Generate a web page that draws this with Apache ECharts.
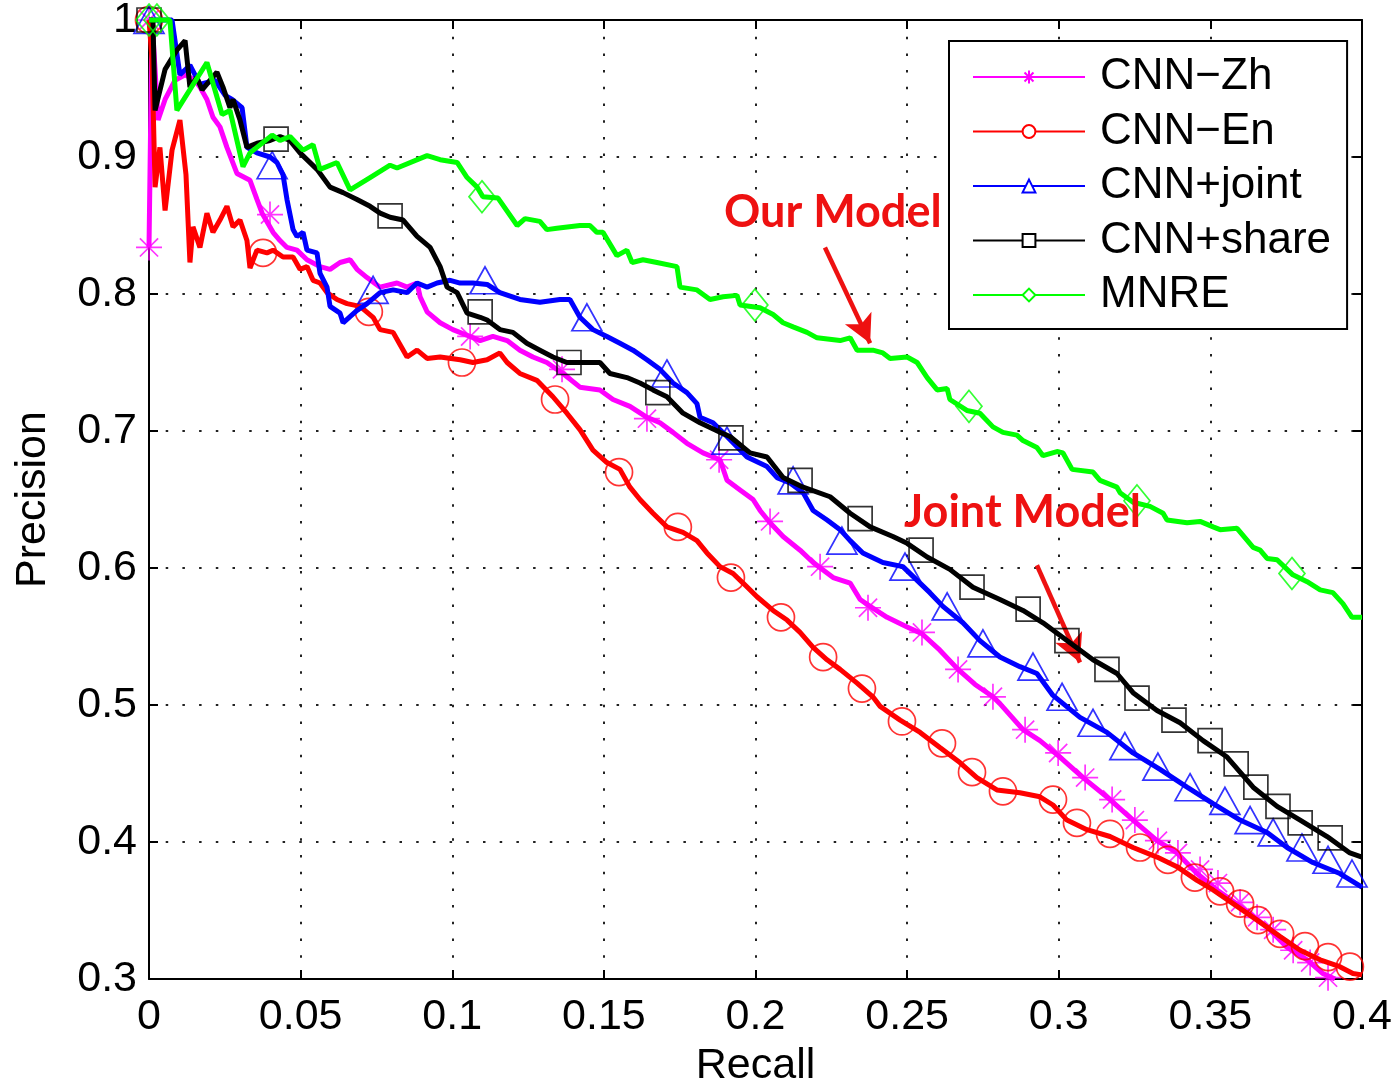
<!DOCTYPE html>
<html>
<head>
<meta charset="utf-8">
<script src="https://cdn.jsdelivr.net/npm/echarts@6/dist/echarts.min.js"></script>
<style>html,body{margin:0;padding:0;background:#fff}#c{width:1399px;height:1087px}</style>
</head>
<body>
<div id="c"></div>
<script>
// ---- data (recall, precision) ----
const seriesNames = ['CNN\u2212Zh', 'CNN\u2212En', 'CNN+joint', 'CNN+share', 'MNRE'];
const xTicks = [0, 0.05, 0.1, 0.15, 0.2, 0.25, 0.3, 0.35, 0.4];
const yTicks = [0.3, 0.4, 0.5, 0.6, 0.7, 0.8, 0.9, 1];

const zhLine = [[0,0.834],[0.001,1.0],[0.003,0.927],[0.0053,0.942],[0.0086,0.956],[0.0119,0.960],[0.0152,0.956],[0.0168,0.951],[0.0191,0.942],[0.0211,0.929],[0.0234,0.922],[0.0257,0.907],[0.029,0.888],[0.0333,0.883],[0.0356,0.869],[0.0373,0.859],[0.0409,0.845],[0.0432,0.839],[0.0455,0.834],[0.0488,0.832],[0.0521,0.825],[0.0564,0.820],[0.0597,0.818],[0.063,0.823],[0.0663,0.825],[0.0686,0.818],[0.0719,0.812],[0.0762,0.805],[0.0818,0.808],[0.0851,0.805],[0.0884,0.808],[0.0894,0.798],[0.0917,0.787],[0.096,0.779],[0.1002,0.774],[0.1059,0.769],[0.1092,0.766],[0.1134,0.769],[0.1181,0.766],[0.1223,0.759],[0.1266,0.754],[0.1312,0.750],[0.1365,0.742],[0.1421,0.732],[0.1487,0.730],[0.153,0.723],[0.1586,0.718],[0.1642,0.710],[0.1685,0.706],[0.1728,0.699],[0.1774,0.691],[0.1827,0.684],[0.1883,0.679],[0.1906,0.664],[0.1949,0.657],[0.1992,0.650],[0.2015,0.642],[0.2048,0.633],[0.2091,0.623],[0.2147,0.613],[0.219,0.604],[0.2256,0.593],[0.2312,0.589],[0.2345,0.577],[0.2378,0.572],[0.2434,0.564],[0.25,0.557],[0.2549,0.552],[0.2608,0.540],[0.2668,0.526],[0.2724,0.515],[0.2783,0.506],[0.2806,0.501],[0.2882,0.482],[0.2938,0.474],[0.3004,0.462],[0.308,0.447],[0.3169,0.431],[0.3245,0.416],[0.3324,0.401],[0.339,0.392],[0.3456,0.377],[0.3522,0.365],[0.3598,0.353],[0.3687,0.338],[0.3753,0.323],[0.3819,0.314],[0.3871,0.304],[0.3911,0.300]];
const zhMarks = [[0,0.834],[0,1.0],[0.0399,0.858],[0.1059,0.769],[0.1362,0.745],[0.1642,0.709],[0.188,0.679],[0.2048,0.634],[0.2213,0.601],[0.2371,0.571],[0.2549,0.553],[0.2668,0.526],[0.2783,0.506],[0.2889,0.482],[0.2998,0.465],[0.3087,0.447],[0.3176,0.431],[0.3251,0.416],[0.3327,0.401],[0.3393,0.392],[0.3466,0.380],[0.3525,0.370],[0.3598,0.356],[0.3654,0.345],[0.3707,0.336],[0.3773,0.321],[0.3829,0.312],[0.3888,0.301]];

const enLine = [[0,1.0],[0.001,0.971],[0.002,0.878],[0.0036,0.907],[0.0053,0.861],[0.0076,0.905],[0.0102,0.927],[0.0122,0.887],[0.0135,0.823],[0.0145,0.849],[0.0168,0.834],[0.0191,0.859],[0.0211,0.845],[0.0234,0.854],[0.0257,0.864],[0.0277,0.849],[0.03,0.854],[0.0323,0.839],[0.0333,0.819],[0.0356,0.832],[0.0389,0.830],[0.0409,0.832],[0.0442,0.827],[0.0475,0.827],[0.0498,0.818],[0.0521,0.820],[0.0541,0.810],[0.0564,0.808],[0.0587,0.801],[0.062,0.796],[0.0653,0.793],[0.0696,0.791],[0.0739,0.783],[0.0762,0.774],[0.0805,0.772],[0.0828,0.763],[0.0851,0.754],[0.0884,0.759],[0.0917,0.753],[0.096,0.754],[0.1026,0.752],[0.1068,0.750],[0.1115,0.752],[0.1157,0.757],[0.1181,0.750],[0.1223,0.742],[0.1279,0.737],[0.1332,0.725],[0.1378,0.713],[0.1421,0.701],[0.1464,0.686],[0.151,0.677],[0.1553,0.672],[0.1586,0.659],[0.1619,0.650],[0.1662,0.640],[0.1708,0.630],[0.1761,0.626],[0.1807,0.620],[0.184,0.611],[0.1883,0.601],[0.1926,0.596],[0.1959,0.589],[0.2005,0.579],[0.2058,0.569],[0.2104,0.562],[0.2147,0.553],[0.219,0.542],[0.2236,0.533],[0.2279,0.526],[0.2335,0.516],[0.2387,0.506],[0.2411,0.499],[0.2477,0.489],[0.2543,0.480],[0.2608,0.469],[0.2674,0.458],[0.273,0.447],[0.2796,0.438],[0.2872,0.436],[0.2938,0.433],[0.2981,0.427],[0.3027,0.416],[0.3093,0.409],[0.3169,0.404],[0.3245,0.396],[0.3324,0.389],[0.339,0.382],[0.3456,0.372],[0.3509,0.365],[0.3575,0.355],[0.3654,0.343],[0.373,0.331],[0.3796,0.321],[0.3862,0.314],[0.3927,0.309],[0.397,0.304],[0.4,0.303]];
const enMarks = [[0,1.0],[0.0376,0.830],[0.0725,0.787],[0.1032,0.750],[0.1339,0.723],[0.155,0.670],[0.1744,0.630],[0.1919,0.593],[0.2084,0.564],[0.2223,0.535],[0.2351,0.512],[0.2483,0.488],[0.2615,0.472],[0.2714,0.451],[0.2816,0.437],[0.2981,0.431],[0.306,0.414],[0.3169,0.406],[0.3268,0.396],[0.336,0.387],[0.3449,0.374],[0.3532,0.364],[0.3598,0.355],[0.3657,0.343],[0.373,0.333],[0.3812,0.324],[0.3888,0.316],[0.396,0.309]];

const jointLine = [[0,1.0],[0.0076,1.0],[0.0102,0.960],[0.0135,0.967],[0.0168,0.953],[0.0218,0.956],[0.0251,0.945],[0.0274,0.942],[0.0307,0.936],[0.0323,0.907],[0.0356,0.903],[0.0399,0.900],[0.0422,0.896],[0.0442,0.887],[0.0455,0.869],[0.0475,0.847],[0.0488,0.842],[0.0508,0.845],[0.0521,0.832],[0.0554,0.830],[0.0564,0.815],[0.0587,0.805],[0.0597,0.791],[0.063,0.786],[0.064,0.779],[0.0686,0.788],[0.0719,0.793],[0.0762,0.801],[0.0805,0.803],[0.0851,0.801],[0.0884,0.808],[0.0917,0.805],[0.095,0.808],[0.0993,0.810],[0.1026,0.808],[0.1068,0.808],[0.1115,0.807],[0.1157,0.801],[0.1223,0.796],[0.1289,0.794],[0.1355,0.796],[0.1388,0.796],[0.1421,0.783],[0.1464,0.774],[0.151,0.769],[0.1553,0.764],[0.1596,0.759],[0.1642,0.752],[0.1685,0.745],[0.1728,0.735],[0.1774,0.728],[0.1807,0.720],[0.1817,0.710],[0.186,0.706],[0.1906,0.696],[0.1972,0.681],[0.2038,0.674],[0.2071,0.666],[0.2114,0.662],[0.2157,0.655],[0.219,0.642],[0.2236,0.635],[0.2279,0.628],[0.2312,0.620],[0.2354,0.611],[0.242,0.604],[0.2486,0.601],[0.2533,0.591],[0.2575,0.582],[0.2618,0.572],[0.2684,0.560],[0.274,0.547],[0.2806,0.535],[0.2872,0.528],[0.2928,0.523],[0.2981,0.507],[0.307,0.491],[0.3159,0.480],[0.3245,0.465],[0.3334,0.453],[0.3423,0.440],[0.3509,0.428],[0.3598,0.416],[0.3687,0.407],[0.3753,0.396],[0.3838,0.385],[0.3927,0.377],[0.4,0.367]];
const jointMarks = [[0,1.0],[0.0406,0.894],[0.0739,0.803],[0.1108,0.810],[0.1444,0.783],[0.1708,0.742],[0.1906,0.693],[0.2124,0.664],[0.2285,0.620],[0.2493,0.601],[0.2632,0.572],[0.275,0.545],[0.2915,0.528],[0.3011,0.506],[0.3113,0.487],[0.3218,0.470],[0.3327,0.455],[0.3433,0.440],[0.3548,0.430],[0.3631,0.416],[0.3707,0.407],[0.3802,0.396],[0.3888,0.387],[0.3967,0.377]];

const shareLine = [[0,1.0],[0.0013,1.0],[0.002,0.934],[0.0053,0.964],[0.0092,0.978],[0.0119,0.985],[0.0135,0.951],[0.0158,0.958],[0.0175,0.949],[0.0224,0.962],[0.0244,0.951],[0.0267,0.936],[0.0277,0.942],[0.03,0.927],[0.0323,0.907],[0.0356,0.910],[0.0399,0.912],[0.0432,0.915],[0.0465,0.912],[0.0498,0.903],[0.0554,0.891],[0.0597,0.878],[0.064,0.874],[0.0686,0.869],[0.0729,0.864],[0.0762,0.859],[0.0795,0.856],[0.0838,0.854],[0.0884,0.842],[0.0927,0.834],[0.096,0.820],[0.0983,0.805],[0.1016,0.801],[0.1049,0.786],[0.1092,0.783],[0.1115,0.781],[0.1157,0.774],[0.12,0.772],[0.1246,0.764],[0.1289,0.759],[0.1332,0.754],[0.1378,0.750],[0.1487,0.750],[0.152,0.742],[0.1576,0.739],[0.1619,0.735],[0.1662,0.730],[0.1708,0.725],[0.1761,0.713],[0.1817,0.706],[0.1883,0.699],[0.1916,0.696],[0.1982,0.684],[0.2038,0.681],[0.2091,0.666],[0.2157,0.659],[0.2246,0.652],[0.2312,0.640],[0.2378,0.630],[0.2453,0.623],[0.25,0.618],[0.2566,0.608],[0.2641,0.599],[0.2717,0.586],[0.2806,0.577],[0.2882,0.569],[0.2948,0.560],[0.3027,0.547],[0.3113,0.533],[0.3192,0.523],[0.3245,0.509],[0.3324,0.496],[0.34,0.487],[0.3476,0.474],[0.3555,0.462],[0.3641,0.440],[0.372,0.426],[0.3796,0.416],[0.3885,0.404],[0.396,0.392],[0.4,0.389]];
const shareMarks = [[0,1.0],[0.0419,0.913],[0.0795,0.857],[0.1092,0.787],[0.1385,0.750],[0.1678,0.728],[0.1919,0.695],[0.2147,0.664],[0.2345,0.636],[0.2546,0.613],[0.2714,0.586],[0.2899,0.570],[0.3027,0.547],[0.3159,0.526],[0.3258,0.505],[0.338,0.489],[0.3499,0.474],[0.3585,0.457],[0.365,0.440],[0.3723,0.426],[0.3796,0.414],[0.3895,0.403]];

const mnreLine = [[0,1.0],[0.0069,1.0],[0.0092,0.934],[0.0191,0.969],[0.0241,0.931],[0.0267,0.934],[0.031,0.893],[0.0333,0.903],[0.0406,0.916],[0.0432,0.912],[0.0465,0.915],[0.0508,0.905],[0.0541,0.909],[0.0564,0.891],[0.062,0.896],[0.0663,0.876],[0.0729,0.885],[0.0795,0.894],[0.0818,0.892],[0.0917,0.901],[0.096,0.898],[0.1016,0.896],[0.1049,0.885],[0.1082,0.878],[0.1101,0.871],[0.1151,0.870],[0.1214,0.850],[0.124,0.855],[0.1289,0.853],[0.1312,0.847],[0.1345,0.848],[0.1421,0.850],[0.1454,0.850],[0.1477,0.845],[0.1497,0.845],[0.1543,0.828],[0.1576,0.832],[0.1593,0.823],[0.1629,0.825],[0.1675,0.823],[0.1741,0.820],[0.1751,0.805],[0.1807,0.803],[0.185,0.796],[0.1893,0.798],[0.1939,0.799],[0.1949,0.792],[0.2015,0.790],[0.2058,0.785],[0.2091,0.779],[0.2124,0.776],[0.217,0.772],[0.2203,0.768],[0.2279,0.766],[0.2312,0.768],[0.2335,0.759],[0.2387,0.759],[0.242,0.757],[0.2444,0.753],[0.25,0.754],[0.2533,0.750],[0.2566,0.739],[0.2599,0.730],[0.2632,0.731],[0.2641,0.723],[0.2697,0.715],[0.274,0.713],[0.2783,0.703],[0.2816,0.699],[0.2862,0.697],[0.2882,0.693],[0.2928,0.688],[0.2948,0.682],[0.2994,0.685],[0.3014,0.684],[0.3044,0.672],[0.3113,0.670],[0.3136,0.664],[0.3192,0.659],[0.3202,0.655],[0.3245,0.648],[0.3301,0.645],[0.3344,0.640],[0.3357,0.635],[0.3423,0.633],[0.3466,0.634],[0.3509,0.630],[0.3532,0.628],[0.3588,0.629],[0.3641,0.615],[0.3664,0.613],[0.3687,0.607],[0.372,0.606],[0.3772,0.595],[0.3819,0.590],[0.3862,0.584],[0.3904,0.582],[0.3937,0.574],[0.3967,0.564],[0.4,0.564]];
const mnreMarks = [[0,1.0],[0.0026,1.0],[0.1098,0.871],[0.1998,0.792],[0.2704,0.718],[0.3258,0.649],[0.3769,0.596]];

// annotation arrows (data coordinates)
const ourArrow = [[0.2229, 0.834], [0.2378, 0.764]];
const jointArrow = [[0.2928, 0.602], [0.3070, 0.531]];

const colors = ['#ff00ff', '#ff0000', '#0000ff', '#000000', '#00ff00'];
const lines = [zhLine, enLine, jointLine, shareLine, mnreLine];
const marks = [zhMarks, enMarks, jointMarks, shareMarks, mnreMarks];
const ASTER = 'path://M5,0L5,10M0,5L10,5M1.5,1.5L8.5,8.5M8.5,1.5L1.5,8.5';
const symbols = [ASTER, 'emptyCircle', 'emptyTriangle', 'emptyRect', 'emptyDiamond'];
const markSymbols = [ASTER, 'circle', 'triangle', 'rect', 'diamond'];
const markSizes = [26, 27, [30, 27], 24, [26, 32]];

const FONT = 'Liberation Sans';
const chart = echarts.init(document.getElementById('c'), null, {renderer: 'canvas'});

const series = [];
for (let i = 0; i < 5; i++) {
  series.push({
    name: seriesNames[i], type: 'line', data: lines[i], showSymbol: false,
    symbol: symbols[i], symbolSize: 12, clip: false, z: 2 + i * 2,
    lineStyle: {color: colors[i], width: 5},
    itemStyle: {color: colors[i], borderColor: colors[i], borderWidth: 2},
    emphasis: {disabled: true}, silent: true
  });
  series.push({
    name: seriesNames[i] + '_m', type: 'scatter', data: marks[i], symbol: markSymbols[i],
    symbolSize: markSizes[i], z: 3 + i * 2, silent: true, clip: false,
    itemStyle: {color: 'rgba(0,0,0,0)', borderColor: colors[i], borderWidth: 1.7},
    emphasis: {disabled: true}
  });
}
const arrowStyle = {color: '#ee1111', width: 4.5, type: 'solid'};
series.push({
  type: 'line', data: [], silent: true, z: 20,
  markLine: {
    silent: true, symbol: ['none', 'arrow'], symbolSize: [22, 28], animation: false,
    label: {show: false}, lineStyle: arrowStyle,
    data: [
      [{coord: ourArrow[0]}, {coord: ourArrow[1]}],
      [{coord: jointArrow[0]}, {coord: jointArrow[1]}]
    ]
  }
});

const axisCommon = {
  type: 'value',
  axisLine: {show: true, onZero: false, lineStyle: {color: '#000', width: 2}},
  axisTick: {show: true, inside: true, length: 9, lineStyle: {color: '#000', width: 2}},
};

chart.setOption({
  animation: false,
  backgroundColor: '#fff',
  grid: {left: 149, right: 37, top: 20, bottom: 108, containLabel: false, outerBoundsMode: 'none'},
  legend: {
    data: seriesNames, orient: 'vertical', left: 949, top: 41,
    padding: [14, 16, 12, 23], itemWidth: 112, itemHeight: 16, itemGap: 10.5,
    borderColor: '#000', borderWidth: 2, backgroundColor: '#fff',
    lineStyle: {width: 2}, selectedMode: false,
    textStyle: {fontFamily: FONT, fontSize: 44, color: '#000', lineHeight: 44, padding: [0, 0, 0, 10]}
  },
  xAxis: [
    Object.assign({}, axisCommon, {
      min: 0, max: 0.4, interval: 0.05, position: 'bottom',
      name: 'Recall', nameLocation: 'middle', nameGap: 66,
      nameTextStyle: {fontFamily: FONT, fontSize: 43, color: '#000'},
      axisLabel: {fontFamily: FONT, fontSize: 43, color: '#000', margin: 17,
        formatter: v => String(+v.toFixed(2))},
      splitLine: {show: true, lineStyle: {color: '#222', width: 2, type: [2.5, 14.2]}}
    }),
    Object.assign({}, axisCommon, {
      min: 0, max: 0.4, interval: 0.05, position: 'top',
      axisLabel: {show: false}, splitLine: {show: false}
    })
  ],
  yAxis: [
    Object.assign({}, axisCommon, {
      min: 0.3, max: 1, interval: 0.1, position: 'left',
      name: 'Precision', nameLocation: 'middle', nameGap: 94, nameRotate: 90,
      nameTextStyle: {fontFamily: FONT, fontSize: 43, color: '#000'},
      axisLabel: {fontFamily: FONT, fontSize: 43, color: '#000', margin: 12,
        formatter: v => (Math.abs(v - 1) < 1e-9 ? '1' : v.toFixed(1))},
      splitLine: {show: true, lineStyle: {color: '#222', width: 2, type: [2.5, 14.2]}}
    }),
    Object.assign({}, axisCommon, {
      min: 0.3, max: 1, interval: 0.1, position: 'right',
      axisLabel: {show: false}, splitLine: {show: false}
    })
  ],
  graphic: [
    {type: 'text', left: 724, top: 190, z: 100, silent: true,
      style: {text: 'Our Model', fill: '#ee1111', font: 'bold 45px Lato'}},
    {type: 'text', left: 904, top: 490, z: 100, silent: true,
      style: {text: 'Joint Model', fill: '#ee1111', font: 'bold 45px Lato'}}
  ],
  series: series
});
</script>
</body>
</html>
